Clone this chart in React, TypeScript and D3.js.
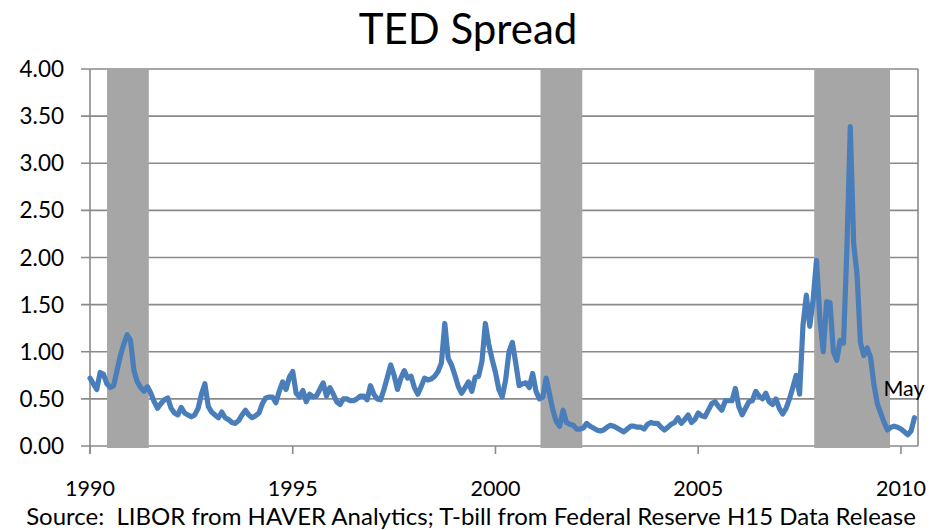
import React from 'react';
import * as d3 from 'd3';

// Monthly TED spread (percentage points), Jan 1990 – May 2010
const tedSpread: number[] = [
  // 1990
  0.72, 0.66, 0.60, 0.78, 0.76, 0.66, 0.62, 0.64, 0.80, 0.96, 1.08, 1.18,
  // 1991
  1.12, 0.80, 0.68, 0.62, 0.58, 0.63, 0.56, 0.47, 0.40, 0.45, 0.49, 0.51,
  // 1992
  0.40, 0.35, 0.33, 0.41, 0.35, 0.33, 0.31, 0.33, 0.40, 0.55, 0.66, 0.42,
  // 1993
  0.36, 0.33, 0.30, 0.36, 0.30, 0.28, 0.25, 0.24, 0.27, 0.33, 0.38, 0.33,
  // 1994
  0.30, 0.32, 0.35, 0.45, 0.51, 0.52, 0.52, 0.46, 0.58, 0.68, 0.60, 0.73,
  // 1995
  0.79, 0.56, 0.52, 0.59, 0.47, 0.55, 0.52, 0.53, 0.60, 0.67, 0.53, 0.62,
  // 1996
  0.55, 0.47, 0.44, 0.50, 0.50, 0.48, 0.48, 0.50, 0.53, 0.53, 0.49, 0.64,
  // 1997
  0.55, 0.50, 0.49, 0.60, 0.73, 0.86, 0.75, 0.60, 0.72, 0.80, 0.72, 0.74,
  // 1998
  0.62, 0.55, 0.63, 0.72, 0.70, 0.71, 0.74, 0.79, 0.88, 1.30, 0.93, 0.86,
  // 1999
  0.75, 0.63, 0.56, 0.62, 0.68, 0.58, 0.73, 0.74, 0.90, 1.30, 1.08, 0.92,
  // 2000
  0.78, 0.60, 0.52, 0.70, 1.00, 1.10, 0.88, 0.64, 0.66, 0.67, 0.62, 0.77,
  // 2001
  0.58, 0.50, 0.52, 0.72, 0.55, 0.38, 0.26, 0.21, 0.38, 0.25, 0.23, 0.22,
  // 2002
  0.18, 0.18, 0.19, 0.24, 0.21, 0.19, 0.17, 0.16, 0.17, 0.20, 0.22, 0.21,
  // 2003
  0.19, 0.17, 0.15, 0.18, 0.21, 0.21, 0.20, 0.20, 0.18, 0.23, 0.25, 0.24,
  // 2004
  0.24, 0.20, 0.17, 0.20, 0.23, 0.25, 0.30, 0.24, 0.28, 0.33, 0.25, 0.28,
  // 2005
  0.35, 0.32, 0.31, 0.38, 0.45, 0.47, 0.42, 0.38, 0.48, 0.48, 0.48, 0.61,
  // 2006
  0.42, 0.33, 0.40, 0.47, 0.48, 0.58, 0.53, 0.50, 0.56, 0.47, 0.44, 0.50,
  // 2007
  0.40, 0.34, 0.40, 0.50, 0.62, 0.75, 0.55, 1.28, 1.60, 1.27, 1.55, 1.97,
  // 2008
  1.35, 1.00, 1.53, 1.52, 1.00, 0.91, 1.12, 1.09, 2.10, 3.39, 2.15, 1.82,
  // 2009
  1.10, 0.96, 1.04, 0.94, 0.65, 0.45, 0.35, 0.25, 0.17, 0.20, 0.21, 0.20,
  // 2010
  0.18, 0.15, 0.12, 0.16, 0.30,
];

const startYear = 1990;
const recessionStarts = [1990.42, 2001.11, 2007.86];
const recessionEnds = [1991.45, 2002.14, 2009.73];
const yTicks = [0, 0.5, 1, 1.5, 2, 2.5, 3, 3.5, 4];
const xTicks = [1990, 1995, 2000, 2005, 2010];
const title = 'TED Spread';
const sourceNote = 'Source:  LIBOR from HAVER Analytics; T-bill from Federal Reserve H15 Data Release';
const endLabel = 'May';

const W = 932;
const H = 530;
const FONT = 'Lato, "Open Sans", sans-serif';

export default function App() {
  const x = d3.scaleLinear().domain([1990, 2010.42]).range([90, 918]);
  const y = d3.scaleLinear().domain([0, 4]).range([446, 69]);

  const pts = tedSpread.map((v, i) => ({ t: startYear + i / 12, v }));
  const line = d3
    .line<{ t: number; v: number }>()
    .x((d) => x(d.t))
    .y((d) => y(d.v));

  const last = pts[pts.length - 1];
  const gridColor = '#8a8a8a';

  return (
    <svg
      width={W}
      height={H}
      style={{ position: 'absolute', left: 0, top: 0, display: 'block', background: '#fff' }}
      fontFamily={FONT}
    >
      <rect x={0} y={0} width={W} height={H} fill="#fff" />
      <text x={468} y={44} textAnchor="middle" fontSize={42} fill="#000">
        {title}
      </text>

      {/* gridlines + y ticks */}
      {yTicks.map((t) => (
        <line
          key={'g' + t}
          x1={x(1990) - 9}
          x2={x(2010.42)}
          y1={y(t)}
          y2={y(t)}
          stroke={gridColor}
          strokeWidth={1.6}
        />
      ))}
      {/* right border */}
      <line x1={x(2010.42)} x2={x(2010.42)} y1={y(4)} y2={y(0)} stroke={gridColor} strokeWidth={1.6} />

      {/* recession bands */}
      {recessionStarts.map((s, i) => (
        <rect
          key={'r' + i}
          x={x(s)}
          y={y(4) - 1}
          width={x(recessionEnds[i]) - x(s)}
          height={y(0) - y(4) + 3}
          fill="#a6a6a6"
        />
      ))}

      {/* y axis */}
      <line x1={x(1990)} x2={x(1990)} y1={y(4)} y2={y(0) + 8} stroke={gridColor} strokeWidth={1.6} />
      {/* x ticks */}
      {xTicks.map((t) => (
        <line key={'xt' + t} x1={x(t)} x2={x(t)} y1={y(0)} y2={y(0) + 8} stroke={gridColor} strokeWidth={1.6} />
      ))}

      {yTicks.map((t) => (
        <text
          key={'yl' + t}
          x={64}
          y={y(t)}
          dy="0.36em"
          textAnchor="end"
          fontSize={22.5}
          fill="#000"
        >
          {t.toFixed(2)}
        </text>
      ))}
      {xTicks.map((t) => (
        <text key={'xl' + t} x={x(t)} y={496} textAnchor="middle" fontSize={21.5} fill="#000">
          {t}
        </text>
      ))}

      <path
        d={line(pts) || ''}
        fill="none"
        stroke="#4a7ebb"
        strokeWidth={5.2}
        strokeLinejoin="round"
        strokeLinecap="round"
      />

      <text x={x(last.t) - 31} y={396} fontSize={21.5} fill="#000">
        {endLabel}
      </text>

      <text
        x={471}
        y={525}
        textAnchor="middle"
        fontSize={24}
        fill="#000"
        style={{ whiteSpace: 'pre' }}
      >
        {sourceNote}
      </text>
    </svg>
  );
}
